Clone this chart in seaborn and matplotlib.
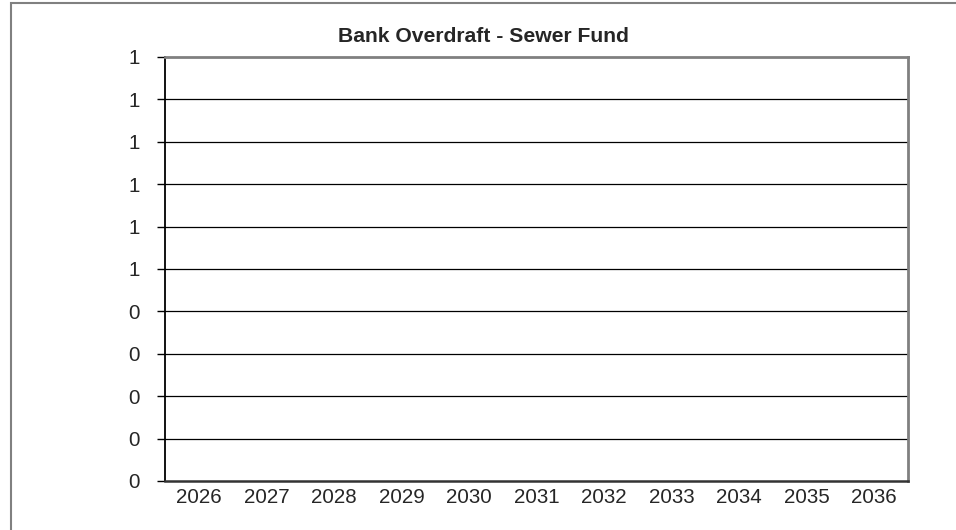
import seaborn as sns
import matplotlib.pyplot as plt
import pandas as pd
from matplotlib.patches import Rectangle

years = ["2026", "2027", "2028", "2029", "2030", "2031", "2032", "2033", "2034", "2035", "2036"]
overdraft = [0, 0, 0, 0, 0, 0, 0, 0, 0, 0, 0]
ytick_values = [0.0, 0.1, 0.2, 0.3, 0.4, 0.5, 0.6, 0.7, 0.8, 0.9, 1.0]
ytick_labels = ["0", "0", "0", "0", "0", "1", "1", "1", "1", "1", "1"]

df = pd.DataFrame({"Year": years, "Overdraft": overdraft})

sns.set_style("white")
plt.rcParams['font.family'] = ['Liberation Sans', 'DejaVu Sans']

fig = plt.figure(figsize=(9.56, 5.30), dpi=100)
ax = fig.add_axes([165 / 956, 1 - 481 / 530, (908 - 165) / 956, (481 - 57) / 530])

# empty series - bars of zero height
sns.barplot(x="Year", y="Overdraft", data=df, ax=ax, color="#9999ff", width=0.6)

ax.set_ylim(0, 1)
ax.set_xlim(-0.5, len(years) - 0.5)
ax.set_yticks(ytick_values)
ax.set_yticklabels(ytick_labels, fontsize=14.8)
ax.set_xticks(range(len(years)))
ax.set_xticklabels(years, fontsize=14.8)
ax.set_xlabel("")
ax.set_ylabel("")

# gridlines
for v in ytick_values[1:-1]:
    ax.axhline(v, color="black", lw=0.9, zorder=0)

# category separators as x ticks
ax.tick_params(axis="x", length=0, pad=5)
ax.set_xticks([i - 0.5 for i in range(len(years) + 1)], minor=True)
ax.tick_params(axis="x", which="minor", length=6, width=1, color="black", direction="out")
ax.tick_params(axis="y", length=6, width=1, color="black", direction="out", pad=12, left=True)

for side in ["top", "right"]:
    ax.spines[side].set_visible(True)
    ax.spines[side].set_color("#808080")
    ax.spines[side].set_linewidth(2)
ax.spines["left"].set_color("black")
ax.spines["left"].set_linewidth(1.3)
ax.spines["bottom"].set_color("#333333")
ax.spines["bottom"].set_linewidth(1.8)

fig.text(483 / 956, 1 - 36 / 530, "Bank Overdraft - Sewer Fund", ha="center", va="center",
         fontsize=15.2, fontweight="bold")

# outer chart frame
fig.patches.append(Rectangle((11 / 956, -0.1), 1.2, 1.1 - 3 / 530, transform=fig.transFigure,
                             fill=False, edgecolor="#808080", lw=1.5))

fig.savefig("out.png", dpi=100)
